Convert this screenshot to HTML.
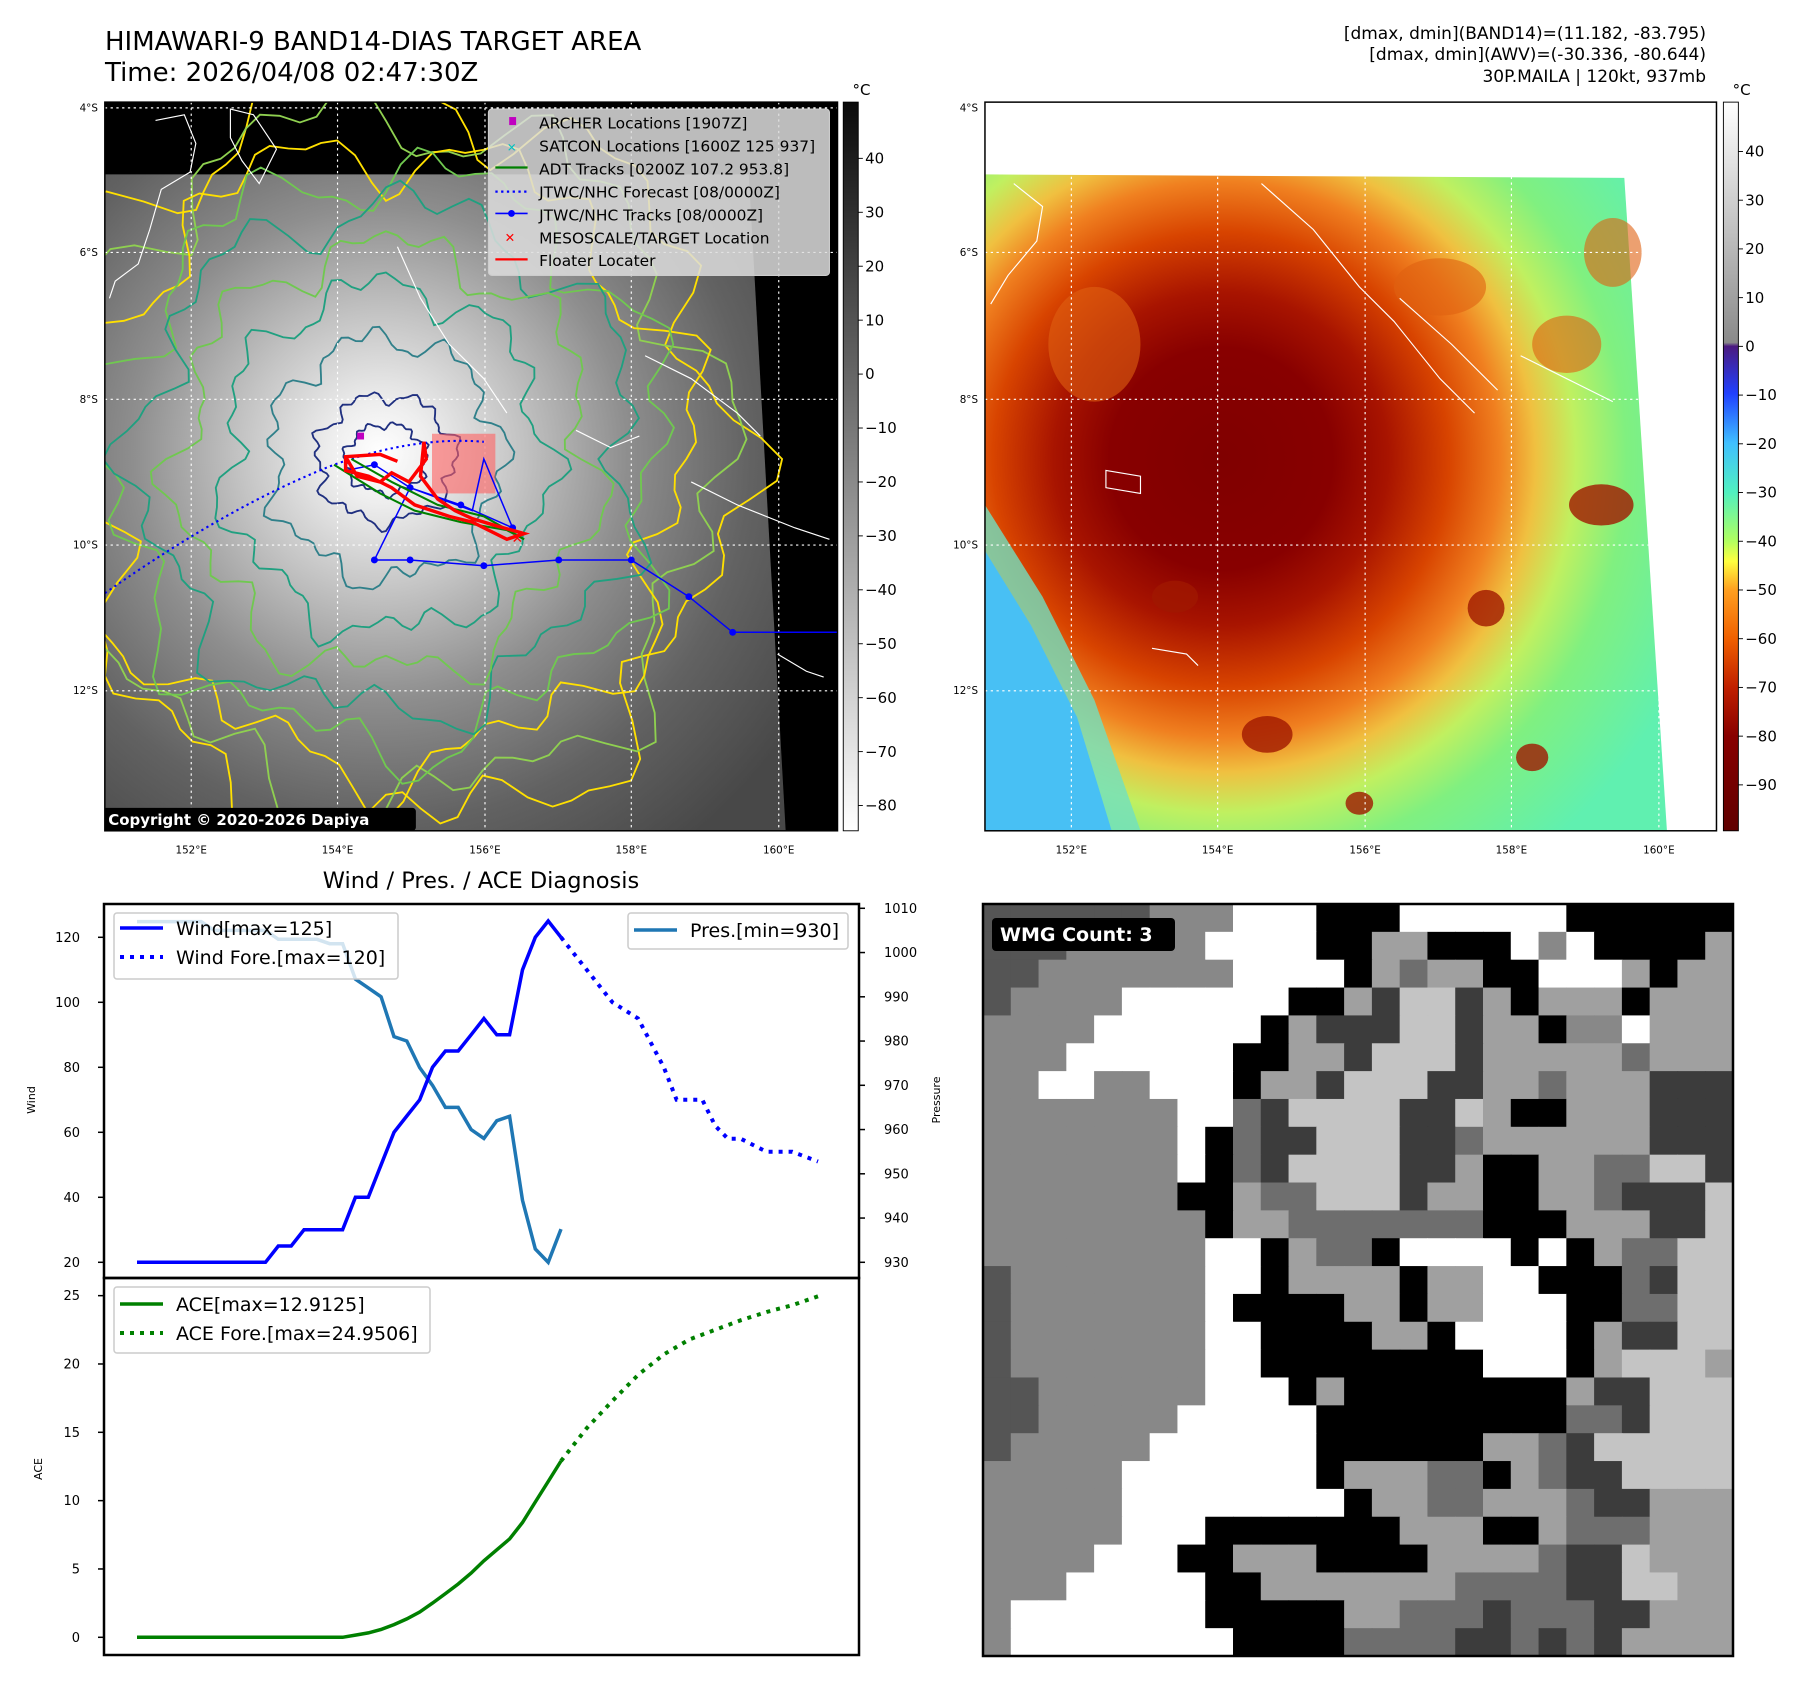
<!DOCTYPE html>
<html><head><meta charset="utf-8"><title>HIMAWARI-9 BAND14-DIAS TARGET AREA</title>
<style>
html,body{margin:0;padding:0;background:#fff;}
svg{display:block;font-family:"DejaVu Sans","Liberation Sans",sans-serif;}
</style></head>
<body>
<svg id="root" xmlns="http://www.w3.org/2000/svg" width="1797" height="1691" viewBox="0 0 1797 1691">
<defs>
  <radialGradient id="gL" gradientUnits="userSpaceOnUse" cx="330" cy="395" r="430">
    <stop offset="0" stop-color="#ffffff"/><stop offset="0.1" stop-color="#eeeeee"/>
    <stop offset="0.28" stop-color="#c4c4c4"/><stop offset="0.5" stop-color="#8e8e8e"/>
    <stop offset="0.75" stop-color="#626262"/><stop offset="1" stop-color="#484848"/>
  </radialGradient>
  <radialGradient id="gR" gradientUnits="userSpaceOnUse" cx="1060" cy="400" r="440">
    <stop offset="0" stop-color="#800000"/><stop offset="0.22" stop-color="#880000"/>
    <stop offset="0.33" stop-color="#a81400"/><stop offset="0.45" stop-color="#d84400"/>
    <stop offset="0.55" stop-color="#f08020"/><stop offset="0.62" stop-color="#f0c040"/>
    <stop offset="0.7" stop-color="#c0f060"/><stop offset="0.8" stop-color="#80f080"/>
    <stop offset="1" stop-color="#60f0b0"/>
  </radialGradient>
  <linearGradient id="cbL" x1="0" y1="0" x2="0" y2="1">
    <stop offset="0" stop-color="#0a0a0a"/><stop offset="1" stop-color="#ffffff"/>
  </linearGradient>
  <linearGradient id="cbR" x1="0" y1="0" x2="0" y2="1">
    <stop offset="0" stop-color="#ffffff"/><stop offset="0.33" stop-color="#8a8a8a"/>
    <stop offset="0.335" stop-color="#4b1a80"/><stop offset="0.40" stop-color="#2040ff"/>
    <stop offset="0.468" stop-color="#40c0ff"/><stop offset="0.535" stop-color="#50f0c0"/>
    <stop offset="0.602" stop-color="#b0ff60"/><stop offset="0.63" stop-color="#ffff40"/>
    <stop offset="0.669" stop-color="#ffa020"/><stop offset="0.736" stop-color="#f06000"/>
    <stop offset="0.803" stop-color="#c02000"/><stop offset="0.87" stop-color="#880000"/>
    <stop offset="1" stop-color="#600000"/>
  </linearGradient>
  <clipPath id="clipL"><rect x="91" y="89" width="636" height="635"/></clipPath>
  <clipPath id="clipR"><rect x="855" y="89" width="635" height="635"/></clipPath>
</defs>

<text x="105" y="50" font-size="26">HIMAWARI-9 BAND14-DIAS TARGET AREA</text>
<text x="105" y="81" font-size="26">Time: 2026/04/08 02:47:30Z</text>
<g font-size="17" text-anchor="end">
  <text x="1706" y="39">[dmax, dmin](BAND14)=(11.182, -83.795)</text>
  <text x="1706" y="60">[dmax, dmin](AWV)=(-30.336, -80.644)</text>
  <text x="1706" y="82">30P.MAILA | 120kt, 937mb</text>
</g>

<g transform="scale(1.152,1.1475)">
  <g clip-path="url(#clipL)">
    <rect x="91" y="89" width="636" height="635" fill="#000"/>
    <polygon points="91,152 650,152 682,724 91,724" fill="url(#gL)"/>
    <g id="contoursL" fill="none" stroke-width="1.6"></g>
    <g fill="none" stroke="#fff" stroke-width="1">
      <path d="M135,105 L160,100 L170,125 L165,150 L140,165 L130,200 L120,230 L100,245 L95,260"/>
      <path d="M200,95 L220,100 L240,130 L225,160 L210,140 L200,120 Z"/>
      <path d="M345,215 L365,260 L390,300 L420,330 L440,360"/>
      <path d="M560,310 L600,330 L640,360 L660,380"/>
      <path d="M500,375 L530,390 L555,380"/>
      <path d="M600,420 L640,440 L690,460 L720,470"/>
      <path d="M675,570 L700,585 L715,590"/>
    </g>
    <g stroke="#fff" stroke-width="1" stroke-dasharray="2,3">
      <line x1="166" y1="89" x2="166" y2="724"/><line x1="293" y1="89" x2="293" y2="724"/>
      <line x1="421" y1="89" x2="421" y2="724"/><line x1="548" y1="89" x2="548" y2="724"/>
      <line x1="676" y1="89" x2="676" y2="724"/>
      <line x1="91" y1="94" x2="727" y2="94"/><line x1="91" y1="220" x2="727" y2="220"/>
      <line x1="91" y1="348" x2="727" y2="348"/><line x1="91" y1="475" x2="727" y2="475"/>
      <line x1="91" y1="602" x2="727" y2="602"/>
    </g>
    <rect x="375" y="378" width="55" height="52" fill="#ff6060" opacity="0.6"/>
    <path d="M91,517 Q200,440 290,405 Q360,380 420,385" fill="none" stroke="#0000ff" stroke-width="1.8" stroke-dasharray="2,3"/>
    <polyline points="325,488 356,488 420,493 485,488 548,488 598,520 636,551 727,551" fill="none" stroke="#0000ff" stroke-width="1.3"/>
    <g fill="#0000ff"><circle cx="325" cy="488" r="3"/><circle cx="356" cy="488" r="3"/><circle cx="420" cy="493" r="3"/><circle cx="485" cy="488" r="3"/><circle cx="548" cy="488" r="3"/><circle cx="598" cy="520" r="3"/><circle cx="636" cy="551" r="3"/><circle cx="325" cy="405" r="3"/><circle cx="356" cy="425" r="3"/><circle cx="400" cy="440" r="3"/><circle cx="445" cy="460" r="3"/></g>
    <polyline points="325,488 356,425 400,440 445,460 420,400 410,445 356,425 325,405 300,410" fill="none" stroke="#0000ff" stroke-width="1.3"/>
    <polyline points="290,405 330,430 360,445 400,455 440,462 455,470 420,450 380,440 340,420 305,400" fill="none" stroke="#008000" stroke-width="1.8"/>
    <polyline points="300,398 310,415 330,420 340,412 355,420 370,400 368,385 365,415 380,435 395,445 410,452 430,458 455,465 440,470 410,455 390,450 360,440 340,425 320,415 300,410 300,398 330,396 345,402" fill="none" stroke="#ff0000" stroke-width="3"/>
    <rect x="310" y="377" width="6" height="6" fill="#c000c0"/>
    <text x="444" y="473" font-size="12" fill="#ff0000" font-weight="bold">✕</text>
    <g>
      <rect x="424" y="95" width="296" height="145" rx="3" fill="#ddd" fill-opacity="0.85" stroke="#ccc"/>
      <rect x="442" y="102" width="6" height="7" fill="#c000c0"/>
      <text x="440" y="132" font-size="10" fill="#00c0c0" font-weight="bold">✕</text>
      <line x1="430" y1="146" x2="458" y2="146" stroke="#008000" stroke-width="2"/>
      <line x1="430" y1="167" x2="458" y2="167" stroke="#0000ff" stroke-width="2" stroke-dasharray="2,3"/>
      <line x1="430" y1="186" x2="458" y2="186" stroke="#0000ff" stroke-width="1.5"/><circle cx="444" cy="186" r="3" fill="#0000ff"/>
      <text x="438" y="211" font-size="11" fill="#ff0000" font-weight="bold">✕</text>
      <line x1="430" y1="226" x2="458" y2="226" stroke="#ff0000" stroke-width="2"/>
      <g font-size="13.4" fill="#000">
        <text x="468" y="112">ARCHER Locations [1907Z]</text>
        <text x="468" y="132">SATCON Locations [1600Z 125 937]</text>
        <text x="468" y="152">ADT Tracks [0200Z 107.2 953.8]</text>
        <text x="468" y="172">JTWC/NHC Forecast [08/0000Z]</text>
        <text x="468" y="192">JTWC/NHC Tracks [08/0000Z]</text>
        <text x="468" y="212">MESOSCALE/TARGET Location</text>
        <text x="468" y="232">Floater Locater</text>
      </g>
    </g>
    <rect x="89" y="704" width="272" height="20" rx="3" fill="#000"/>
    <text x="94" y="719" font-size="13" font-weight="bold" fill="#fff">Copyright © 2020-2026 Dapiya</text>
  </g>
  <rect x="91" y="89" width="636" height="635" fill="none" stroke="#000" stroke-width="1.3"/>

  <g clip-path="url(#clipR)">
    <rect x="855" y="89" width="635" height="635" fill="#fff"/>
    <polygon points="855,152 1410,155 1447,724 855,724" fill="url(#gR)"/>
    <polygon points="855,440 905,520 950,610 990,724 855,724" fill="#70e0c0" opacity="0.8"/>
    <polygon points="855,480 895,545 935,625 965,724 855,724" fill="#48c0f4"/>
    <g fill="#a01800" opacity="0.8">
      <ellipse cx="1390" cy="440" rx="28" ry="18"/><ellipse cx="1290" cy="530" rx="16" ry="16"/>
      <ellipse cx="1330" cy="660" rx="14" ry="12"/><ellipse cx="1180" cy="700" rx="12" ry="10"/>
      <ellipse cx="1020" cy="520" rx="20" ry="14"/><ellipse cx="1100" cy="640" rx="22" ry="16"/>
    </g>
    <g fill="#e06010" opacity="0.6">
      <ellipse cx="1250" cy="250" rx="40" ry="25"/><ellipse cx="1360" cy="300" rx="30" ry="25"/>
      <ellipse cx="1400" cy="220" rx="25" ry="30"/><ellipse cx="950" cy="300" rx="40" ry="50"/>
    </g>
    <g fill="none" stroke="#fff" stroke-width="1">
      <path d="M880,160 L905,180 L900,210 L875,240 L860,265"/>
      <path d="M1095,160 L1140,200 L1180,250 L1210,280 L1250,330 L1280,360"/>
      <path d="M1215,260 L1260,300 L1300,340"/>
      <path d="M1320,310 L1360,330 L1400,350"/>
      <path d="M960,410 L990,415 L990,430 L960,425 Z"/>
      <path d="M1000,565 L1030,570 L1040,580"/>
    </g>
    <g stroke="#fff" stroke-width="1" stroke-dasharray="2,3">
      <line x1="930" y1="89" x2="930" y2="724"/><line x1="1057" y1="89" x2="1057" y2="724"/>
      <line x1="1185" y1="89" x2="1185" y2="724"/><line x1="1312" y1="89" x2="1312" y2="724"/>
      <line x1="1440" y1="89" x2="1440" y2="724"/>
      <line x1="855" y1="94" x2="1490" y2="94"/><line x1="855" y1="220" x2="1490" y2="220"/>
      <line x1="855" y1="348" x2="1490" y2="348"/><line x1="855" y1="475" x2="1490" y2="475"/>
      <line x1="855" y1="602" x2="1490" y2="602"/>
    </g>
  </g>
  <rect x="855" y="89" width="635" height="635" fill="none" stroke="#000" stroke-width="1.3"/>

  <g font-size="9" fill="#000">
    <g text-anchor="end">
      <text x="85" y="97">4°S</text><text x="85" y="223">6°S</text><text x="85" y="351">8°S</text><text x="85" y="478">10°S</text><text x="85" y="605">12°S</text>
      <text x="849" y="97">4°S</text><text x="849" y="223">6°S</text><text x="849" y="351">8°S</text><text x="849" y="478">10°S</text><text x="849" y="605">12°S</text>
    </g>
    <g text-anchor="middle">
      <text x="166" y="744">152°E</text><text x="293" y="744">154°E</text><text x="421" y="744">156°E</text><text x="548" y="744">158°E</text><text x="676" y="744">160°E</text>
      <text x="930" y="744">152°E</text><text x="1057" y="744">154°E</text><text x="1185" y="744">156°E</text><text x="1312" y="744">158°E</text><text x="1440" y="744">160°E</text>
    </g>
  </g>

  <rect x="732" y="89" width="13" height="635" fill="url(#cbL)" stroke="#000" stroke-width="0.8"/>
  <text x="740" y="83" font-size="13">°C</text>
  <g id="cbLticks" font-size="13"></g>
  <rect x="1496" y="89" width="13" height="635" fill="url(#cbR)" stroke="#000" stroke-width="0.8"/>
  <text x="1504" y="83" font-size="13">°C</text>
  <g id="cbRticks" font-size="13"></g>
</g>

<text x="481" y="888" font-size="22.5" text-anchor="middle">Wind / Pres. / ACE Diagnosis</text>

<g id="windChart"></g>
<g id="aceChart"></g>

<g id="wmg"></g>
<rect x="983" y="904" width="750" height="752" fill="none" stroke="#000" stroke-width="2.5"/>
<rect x="992" y="918" width="183" height="33" rx="4" fill="#000"/>
<text x="1000" y="941" font-size="19" font-weight="bold" fill="#fff">WMG Count: 3</text>

<script>
// ---------- chart data ----------
const windTimes = [0,1,2,3,4,5,6,7,8,9,10,11,12,13,14,15,16,17,18,19,20,21,22,23,24,25,26,27,28,29,30,31,32,33];
const windValues = [20,20,20,20,20,20,20,20,20,20,20,25,25,30,30,30,30,40,40,50,60,65,70,80,85,85,90,95,90,90,110,120,125,120];
const presValues = [1007,1007,1007,1007,1007,1007,1005,1005,1005,1005,1005,1003,1003,1003,1003,1002,1002,994,992,990,981,980,974,970,965,965,960,958,962,963,944,933,930,937.5];
const windForeTimes = [33,35,37,39,41,42,43,44,45,46,47,49,51,53];
const windForeValues = [120,110,100,95,80,70,70,70,62,58,58,54,54,51];
const aceValues = [0,0,0,0,0,0,0,0,0,0,0,0,0,0,0,0,0,0.16,0.32,0.57,0.93,1.35,1.85,2.5,3.2,3.9,4.7,5.6,6.4,7.2,8.4,9.9,11.4,12.9];
const aceForeTimes = [33,35,37,39,41,43,45,47,49,51,53];
const aceForeValues = [12.9,15.3,17.3,19.2,20.7,21.8,22.5,23.2,23.8,24.3,24.95];
const windTicks = [20,40,60,80,100,120];
const presTicks = [930,940,950,960,970,980,990,1000,1010];
const aceTicks = [0,5,10,15,20,25];
const cbLTicks = [40,30,20,10,0,-10,-20,-30,-40,-50,-60,-70,-80];
const cbRTicks = [40,30,20,10,0,-10,-20,-30,-40,-50,-60,-70,-80,-90];

const NS = 'http://www.w3.org/2000/svg';
function mk(tag, attrs, parent){const e=document.createElementNS(NS,tag);for(const k in attrs)e.setAttribute(k,attrs[k]);parent.appendChild(e);return e;}

const xS = t => 137 + t*(561-137)/33;
const wY = v => 937.3 + (120-v)*3.25;
const pY = p => 908.3 + (1010-p)*4.425;
const aY = a => 1637.3 - a*13.666;

function pts(ts, vs, f){return ts.map((t,i)=>xS(t).toFixed(1)+','+f(vs[i]).toFixed(1)).join(' ');}

const wc = document.getElementById('windChart');
mk('rect',{x:104,y:904,width:755,height:374,fill:'#fff',stroke:'#000','stroke-width':2.5},wc);
windTicks.forEach(v=>{
  const y=wY(v);
  mk('line',{x1:98,y1:y,x2:104,y2:y,stroke:'#000','stroke-width':1.5},wc);
  const t=mk('text',{x:80,y:y+4.5,'font-size':13,'text-anchor':'end'},wc);t.textContent=v;
  
  
});
presTicks.forEach(v=>{
  const y=pY(v);
  mk('line',{x1:859,y1:y,x2:865,y2:y,stroke:'#000','stroke-width':1.5},wc);
  const t=mk('text',{x:884,y:y+4.5,'font-size':13},wc);t.textContent=v;
  
  
});
let lab=mk('text',{x:35,y:1100,'font-size':11,'text-anchor':'middle',transform:'rotate(-90 35 1100)'},wc);lab.textContent='Wind';


lab=mk('text',{x:940,y:1100,'font-size':11,'text-anchor':'middle',transform:'rotate(-90 940 1100)'},wc);lab.textContent='Pressure';



let l=mk('polyline',{points:pts(windTimes,presValues,pY),fill:'none',stroke:'#1f77b4','stroke-width':3.5},wc);


l=mk('polyline',{points:pts(windTimes,windValues,wY),fill:'none',stroke:'#0000ff','stroke-width':3.5},wc);


l=mk('polyline',{points:pts(windForeTimes,windForeValues,wY),fill:'none',stroke:'#0000ff','stroke-width':4,'stroke-dasharray':'4,6'},wc);



let lg=mk('g',{},wc);


mk('rect',{x:114,y:913,width:284,height:66,rx:3,fill:'#fff','fill-opacity':0.8,stroke:'#ccc','stroke-width':1.5},lg);
mk('line',{x1:120,y1:928,x2:163,y2:928,stroke:'#0000ff','stroke-width':3.5},lg);
mk('line',{x1:120,y1:957,x2:163,y2:957,stroke:'#0000ff','stroke-width':4,'stroke-dasharray':'4,6'},lg);
let tx=mk('text',{x:176,y:935,'font-size':19},lg);tx.textContent='Wind[max=125]';
tx=mk('text',{x:176,y:964,'font-size':19},lg);tx.textContent='Wind Fore.[max=120]';
lg=mk('g',{},wc);


mk('rect',{x:628,y:913,width:220,height:36,rx:3,fill:'#fff','fill-opacity':0.8,stroke:'#ccc','stroke-width':1.5},lg);
mk('line',{x1:634,y1:930,x2:677,y2:930,stroke:'#1f77b4','stroke-width':3.5},lg);
tx=mk('text',{x:690,y:937,'font-size':19},lg);tx.textContent='Pres.[min=930]';

const ac = document.getElementById('aceChart');
mk('rect',{x:104,y:1278,width:755,height:377,fill:'none',stroke:'#000','stroke-width':2.5},ac);
aceTicks.forEach(v=>{
  const y=aY(v);
  mk('line',{x1:98,y1:y,x2:104,y2:y,stroke:'#000','stroke-width':1.5},ac);
  const t=mk('text',{x:80,y:y+4.5,'font-size':13,'text-anchor':'end'},ac);t.textContent=v;
  
  
});
lab=mk('text',{x:42,y:1469,'font-size':11,'text-anchor':'middle',transform:'rotate(-90 42 1469)'},ac);lab.textContent='ACE';


l=mk('polyline',{points:pts(windTimes,aceValues,aY),fill:'none',stroke:'#008000','stroke-width':3.5},ac);


l=mk('polyline',{points:pts(aceForeTimes,aceForeValues,aY),fill:'none',stroke:'#008000','stroke-width':4,'stroke-dasharray':'4,6'},ac);


lg=mk('g',{},ac);


mk('rect',{x:114,y:1287,width:316,height:66,rx:3,fill:'#fff','fill-opacity':0.8,stroke:'#ccc','stroke-width':1.5},lg);
mk('line',{x1:120,y1:1304,x2:163,y2:1304,stroke:'#008000','stroke-width':3.5},lg);
mk('line',{x1:120,y1:1333,x2:163,y2:1333,stroke:'#008000','stroke-width':4,'stroke-dasharray':'4,6'},lg);
tx=mk('text',{x:176,y:1311,'font-size':19},lg);tx.textContent='ACE[max=12.9125]';
tx=mk('text',{x:176,y:1340,'font-size':19},lg);tx.textContent='ACE Fore.[max=24.9506]';

const gL=document.getElementById('cbLticks');
cbLTicks.forEach((v,i)=>{const y=138+i*47;
  mk('line',{x1:745,y1:y,x2:749,y2:y,stroke:'#000','stroke-width':0.8},gL);
  const t=mk('text',{x:751,y:y+4.5},gL);t.textContent=(v<0?'\u2212'+(-v):v);
  
  });
const gR=document.getElementById('cbRticks');
cbRTicks.forEach((v,i)=>{const y=132+i*42.46;
  mk('line',{x1:1509,y1:y,x2:1513,y2:y,stroke:'#000','stroke-width':0.8},gR);
  const t=mk('text',{x:1515,y:y+4.5},gR);t.textContent=(v<0?'\u2212'+(-v):v);
  
  });

const cg=document.getElementById('contoursL');
const rings=[[300,320,'#ffe000',1],[285,300,'#8fd050',2],[260,270,'#ffe000',3],[240,250,'#70c850',4],[215,220,'#20a080',5],[180,185,'#70c850',6],[140,150,'#20a080',7],[100,105,'#30808a',8],[60,55,'#203080',9],[35,30,'#203080',10]];
rings.forEach(r=>{
  let d='';
  for(let k=0;k<=120;k++){const a=k/120*2*Math.PI;
    const w=1+0.08*Math.sin(a*7+r[3])+0.05*Math.sin(a*13+r[3]*2)+0.04*Math.sin(a*23+r[3]);
    const x=335+r[0]*w*Math.cos(a), y=400+r[1]*w*Math.sin(a);
    d+=(k?'L':'M')+x.toFixed(1)+','+y.toFixed(1);}
  const p=mk('path',{d:d+'Z',stroke:r[2]},cg);
  
  
});

const wmgRows=[
"222222444777000777777000000",
"222444447777005500074700005",
"224444444777705355007775055",
"244447777770051661505550555",
"444477777705111661550447555",
"444777777005516661555553555",
"447744777055166611553555111",
"444444477316666116500555111",
"444444470311666113555555111",
"444444470316666115005533661",
"444444400533666155005531116",
"444444440553333333000555116",
"444444447705330777707053366",
"244444447705555055770003166",
"244444447000055055777003366",
"244444447700005507777051166",
"244444447700000000777056665",
"224444447770500000000511666",
"224444477777000000000331666",
"244444777777000000553166666",
"444447777777055533053116666",
"444447777777705533555311555",
"444447770000000555005333555",
"444477700555000055553116555",
"444777770055555553333116655",
"477777770000055333133311555",
"477777777000033331131315555"];
const cols={'0':'#000','1':'#3c3c3c','2':'#555','3':'#6e6e6e','4':'#888','5':'#a0a0a0','6':'#c4c4c4','7':'#fff'};
const wg=document.getElementById('wmg');
const cw=750/27, ch=752/27;
wmgRows.forEach((row,r)=>{for(let c=0;c<27;c++){
  mk('rect',{x:(983+c*cw).toFixed(2),y:(904+r*ch).toFixed(2),width:(cw+0.6).toFixed(2),height:(ch+0.6).toFixed(2),fill:cols[row[c]]},wg);
}});
</script>
</svg>
</body></html>
